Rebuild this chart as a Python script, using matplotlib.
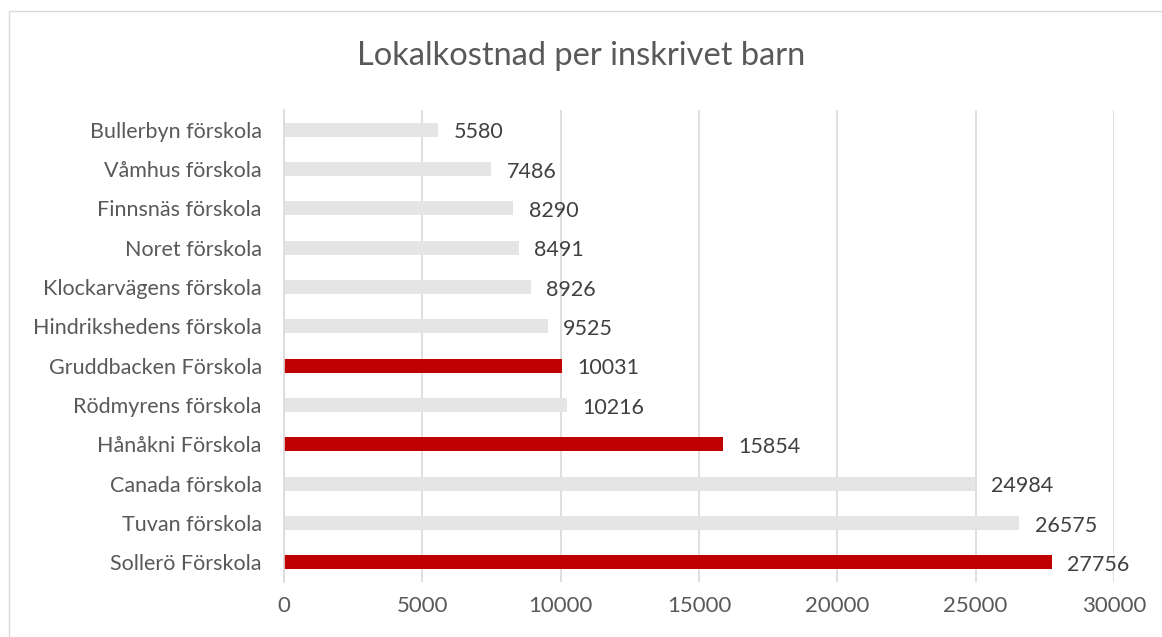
import matplotlib.pyplot as plt
from matplotlib.patches import Rectangle

plt.rcParams['font.family'] = ['Lato', 'DejaVu Sans']

schools = ['Bullerbyn förskola', 'Våmhus förskola', 'Finnsnäs förskola', 'Noret förskola',
           'Klockarvägens förskola', 'Hindrikshedens förskola', 'Gruddbacken Förskola',
           'Rödmyrens förskola', 'Hånåkni Förskola', 'Canada förskola', 'Tuvan förskola',
           'Sollerö Förskola']
cost = [5580, 7486, 8290, 8491, 8926, 9525, 10031, 10216, 15854, 24984, 26575, 27756]
highlight = ['Gruddbacken Förskola', 'Hånåkni Förskola', 'Sollerö Förskola']

colors = ['#C00000' if s in highlight else '#E5E5E5' for s in schools]

fig = plt.figure(figsize=(11.62, 6.37), dpi=100)
ax = fig.add_axes([0.2444, 0.0863, 0.9587 - 0.2444, 0.8273 - 0.0863])

y = list(range(len(schools)))
ax.barh(y, cost, height=0.36, color=colors, zorder=2)
for yi, v in zip(y, cost):
    ax.annotate(str(v), (v, yi), xytext=(11, -2), textcoords='offset points',
                va='center', ha='left', fontsize=15.5, color='#404040')

ax.set_xlim(0, 30000)
ax.set_ylim(len(schools) - 0.5, -0.5)
ax.set_yticks(y)
ax.set_yticklabels(schools)
ax.set_xticks(range(0, 30001, 5000))
ax.tick_params(axis='both', length=0, labelcolor='#595959')
ax.tick_params(axis='y', pad=16, labelsize=15.5)
ax.tick_params(axis='x', pad=10, labelsize=16)
ax.grid(axis='x', color='#D9D9D9', linewidth=1.2, zorder=0)
for s in ['top', 'right', 'bottom']:
    ax.spines[s].set_visible(False)
ax.spines['left'].set_color('#D9D9D9')
ax.spines['left'].set_linewidth(1.2)

fig.text(0.5, 0.912, 'Lokalkostnad per inskrivet barn', ha='center', va='center',
         fontsize=23.5, color='#595959')

fig.patches.append(Rectangle((9 / 1162, -0.1), 1.2, 1 - 11 / 637 + 0.1,
                             transform=fig.transFigure, fill=False,
                             edgecolor='#D9D9D9', linewidth=1))

fig.savefig('out.png', dpi=100)
